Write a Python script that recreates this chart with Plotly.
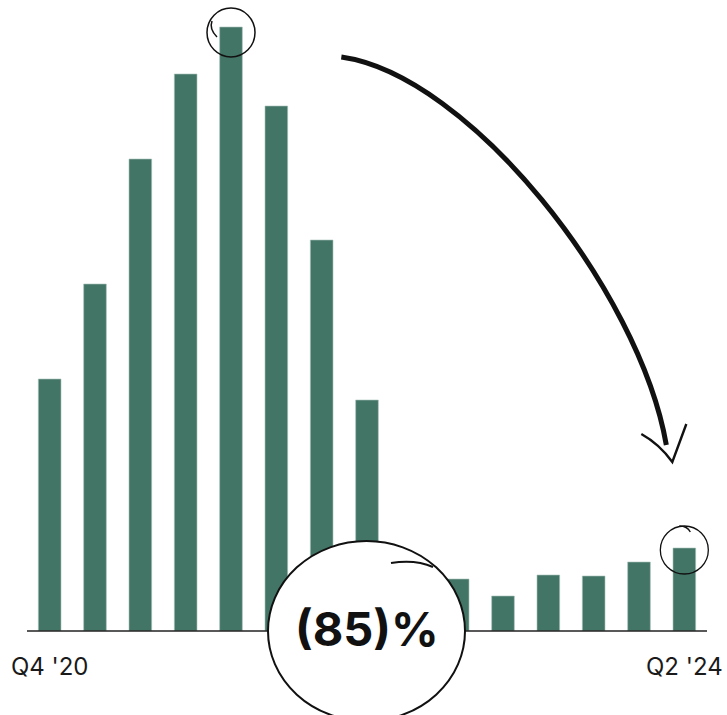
import plotly.graph_objects as go

quarters = ["Q4 '20", "Q1 '21", "Q2 '21", "Q3 '21", "Q4 '21", "Q1 '22", "Q2 '22",
            "Q3 '22", "Q4 '22", "Q1 '23", "Q2 '23", "Q3 '23", "Q4 '23", "Q1 '24", "Q2 '24"]
values = [252, 347, 472, 557, 604, 525, 391, 231, 65, 52, 35, 56, 55, 69, 83]
tick_labels = ["Q4 '20"] + [""] * 13 + ["Q2 '24"]
callout_text = "(85)%"

BAR = "#437567"
INK = "#111111"

x_idx = list(range(len(quarters)))
n = len(values)
peak_i = values.index(max(values))
last_i = n - 1
callout_i = 7
Y_MAX = 631


def px_(i):
    """paper x fraction of a category centre"""
    return (i + 0.5) / n


def py_(v):
    return v / Y_MAX


def pshape(kind, i, v, **kw):
    d = dict(type=kind, xref="paper", yref="paper", xsizemode="pixel", ysizemode="pixel",
             xanchor=px_(i), yanchor=py_(v))
    d.update(kw)
    return d


fig = go.Figure(go.Bar(
    x=x_idx, y=values,
    marker=dict(color=BAR, line=dict(width=0.6, color="#a8c2ba")),
    width=0.5,
    hoverinfo="skip",
))

shapes = []
# baseline (drawn as shape so the callout circle can cover it)
shapes.append(dict(type="line", xref="paper", yref="paper", x0=0, x1=1, y0=0, y1=0,
                   line=dict(color="#222222", width=1.6), layer="above"))
# circle around peak bar
shapes.append(pshape("circle", peak_i, values[peak_i], x0=-24, x1=24, y0=-30, y1=19,
                     line=dict(color=INK, width=1.5)))
shapes.append(pshape("path", peak_i, values[peak_i], path="M -14,-10 Q -22,-2 -19,6",
                     line=dict(color=INK, width=1.5)))
# circle around last bar
shapes.append(pshape("circle", last_i, values[last_i], x0=-24, x1=24, y0=-26, y1=22,
                     line=dict(color=INK, width=1.3)))
shapes.append(pshape("path", last_i, values[last_i], path="M -5,22 Q 3,22 6,16",
                     line=dict(color=INK, width=1.3)))
# big callout circle
shapes.append(pshape("circle", callout_i, 0, x0=-99, x1=98, y0=-90, y1=90,
                     fillcolor="white", line=dict(color=INK, width=2), layer="above"))
shapes.append(pshape("path", callout_i, 0, path="M 24,68 Q 48,72 66,64",
                     line=dict(color=INK, width=2), layer="above"))
# arrow (anchored at last bar top)
shapes.append(pshape("path", last_i, values[last_i],
                     path="M -343,491 C -215,473 -45,258 -18,103",
                     line=dict(color=INK, width=5), layer="above"))
shapes.append(pshape("path", last_i, values[last_i],
                     path="M -43,114 Q -25,104 -12,86 L 2,124",
                     line=dict(color=INK, width=2.4), layer="above"))

fig.update_layout(
    width=727, height=715,
    margin=dict(l=27, r=20, t=0, b=84),
    paper_bgcolor="white", plot_bgcolor="white",
    showlegend=False,
    bargap=0.5,
    xaxis=dict(range=[-0.5, n - 0.5], tickmode="array", tickvals=x_idx,
               ticktext=tick_labels, showgrid=False, zeroline=False,
               showline=False, ticks="",
               tickfont=dict(family="Inter, sans-serif", size=24, color="#1a1a1a"),
               ticklabelstandoff=19, fixedrange=True),
    yaxis=dict(range=[0, Y_MAX], visible=False, fixedrange=True),
    shapes=shapes,
    annotations=[dict(x=px_(callout_i), y=py_(0), xref="paper", yref="paper",
                      text="<b>" + callout_text + "</b>",
                      showarrow=False, xanchor="center", yanchor="middle",
                      yshift=3, xshift=0,
                      font=dict(family="Inter, sans-serif", size=47, color=INK))],
)

fig.write_html("out.html", config={"displayModeBar": False})
